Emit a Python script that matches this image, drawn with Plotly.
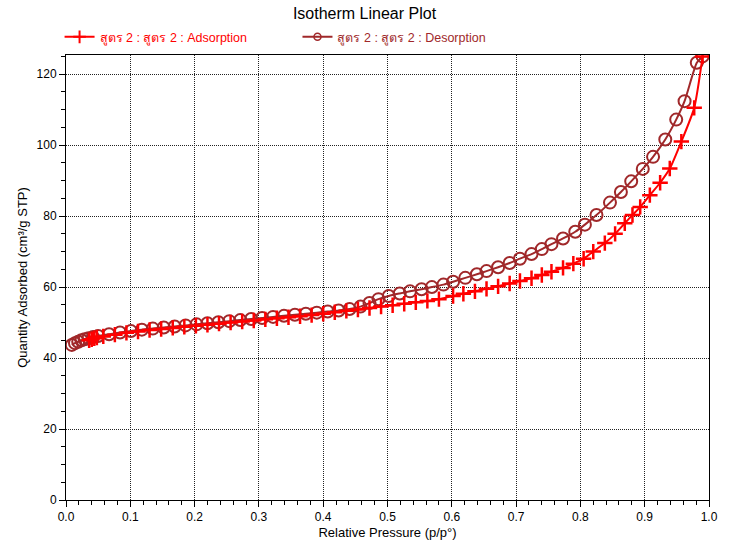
import plotly.graph_objects as go

ads_x = [0.036, 0.040, 0.044, 0.048, 0.058, 0.076, 0.094, 0.112, 0.130, 0.148, 0.166, 0.184,
         0.202, 0.220, 0.238, 0.256, 0.274, 0.292, 0.310, 0.328, 0.346, 0.364, 0.382, 0.400,
         0.418, 0.436, 0.454, 0.472, 0.490, 0.508, 0.526, 0.544, 0.562, 0.580, 0.602, 0.618,
         0.636, 0.654, 0.672, 0.690, 0.706, 0.724, 0.740, 0.755, 0.773, 0.789, 0.805, 0.820,
         0.838, 0.854, 0.869, 0.881, 0.893, 0.908, 0.924, 0.939, 0.957, 0.977, 0.990]
ads_y = [45.0, 45.3, 45.6, 45.8, 46.1, 46.6, 47.1, 47.5, 47.9, 48.2, 48.5, 48.8,
         49.1, 49.4, 49.7, 50.0, 50.3, 50.6, 50.9, 51.2, 51.5, 51.8, 52.1, 52.5,
         52.9, 53.3, 53.7, 54.1, 54.5, 54.9, 55.3, 55.7, 56.1, 56.6, 57.5, 58.1,
         58.8, 59.5, 60.2, 61.0, 61.7, 62.5, 63.4, 64.3, 65.4, 66.6, 68.0, 70.0,
         72.4, 75.0, 78.0, 80.3, 82.6, 85.9, 89.4, 93.4, 101.0, 110.5, 125.0]

des_x = [0.009, 0.014, 0.019, 0.024, 0.029, 0.035, 0.042, 0.050, 0.067, 0.084, 0.101, 0.118,
         0.135, 0.152, 0.169, 0.186, 0.203, 0.220, 0.237, 0.254, 0.271, 0.288, 0.305, 0.322,
         0.339, 0.356, 0.373, 0.390, 0.407, 0.424, 0.441, 0.458, 0.472, 0.486, 0.502, 0.519,
         0.535, 0.553, 0.569, 0.587, 0.602, 0.621, 0.639, 0.654, 0.672, 0.690, 0.706, 0.724,
         0.740, 0.755, 0.773, 0.792, 0.807, 0.825, 0.846, 0.863, 0.879, 0.897, 0.913, 0.932,
         0.949, 0.962, 0.981, 0.990]
des_y = [43.7, 44.2, 44.6, 45.0, 45.3, 45.6, 45.9, 46.2, 46.7, 47.2, 47.6, 48.0,
         48.3, 48.6, 48.9, 49.2, 49.5, 49.8, 50.1, 50.4, 50.7, 51.0, 51.3, 51.6,
         51.9, 52.2, 52.5, 52.8, 53.1, 53.4, 53.8, 54.5, 55.5, 56.6, 57.5, 58.2,
         58.8, 59.4, 60.0, 60.7, 61.5, 62.6, 63.6, 64.5, 65.6, 66.8, 68.0, 69.3,
         70.7, 72.1, 73.7, 75.6, 77.6, 80.3, 83.8, 86.8, 89.8, 93.3, 96.7, 101.6,
         107.2, 112.4, 123.2, 125.0]

x_ticks = [0.0, 0.1, 0.2, 0.3, 0.4, 0.5, 0.6, 0.7, 0.8, 0.9, 1.0]
y_ticks = [0, 20, 40, 60, 80, 100, 120]

ADS_NAME = "สูตร 2 : สูตร 2 : Adsorption"
DES_NAME = "สูตร 2 : สูตร 2 : Desorption"
ADS_COLOR = "#FF0000"
DES_COLOR = "#A0282A"
FONT = "Liberation Sans, Arial, sans-serif"

fig = go.Figure()
fig.add_trace(go.Scatter(
    x=des_x, y=des_y, mode="lines+markers", name=DES_NAME, showlegend=False,
    line=dict(color=DES_COLOR, width=2, shape="spline", smoothing=0.6),
    marker=dict(symbol="circle-open", size=12, color=DES_COLOR, line=dict(width=2, color=DES_COLOR))))
fig.add_trace(go.Scatter(
    x=ads_x, y=ads_y, mode="lines+markers", name=ADS_NAME, showlegend=False,
    line=dict(color=ADS_COLOR, width=2, shape="spline", smoothing=0.6),
    marker=dict(symbol="cross-thin-open", size=11, color=ADS_COLOR, line=dict(width=2.5, color=ADS_COLOR))))

# legend entries (smaller symbols, as in the reference legend)
fig.add_trace(go.Scatter(
    x=[None], y=[None], mode="lines+markers", name=ADS_NAME, legend="legend",
    line=dict(color=ADS_COLOR, width=2),
    marker=dict(symbol="cross-thin-open", size=9, color=ADS_COLOR, line=dict(width=2, color=ADS_COLOR))))
fig.add_trace(go.Scatter(
    x=[None], y=[None], mode="lines+markers", name=DES_NAME, legend="legend2",
    line=dict(color=DES_COLOR, width=2),
    marker=dict(symbol="circle-open", size=7, color=DES_COLOR, line=dict(width=1.5, color=DES_COLOR))))

axis_common = dict(
    showline=True, linecolor="black", linewidth=1, mirror=True,
    ticks="outside", ticklen=6, tickcolor="black", tickwidth=1,
    showgrid=True, gridcolor="#222222", gridwidth=1, griddash="1px,1px",
    zeroline=False, tickfont=dict(family=FONT, size=12, color="black"),
)

fig.update_xaxes(
    range=[0, 1], tickvals=x_ticks, ticktext=[f"{v:.1f}" for v in x_ticks],
    title=dict(text="Relative Pressure (p/p°)", font=dict(family=FONT, size=13, color="black"), standoff=4),
    minor=dict(tickvals=[round(i * 0.02, 2) for i in range(51)], ticks="outside", ticklen=4,
               tickcolor="black", showgrid=False),
    **axis_common)
fig.update_yaxes(
    range=[0, 125.4], tickvals=y_ticks,
    title=dict(text="Quantity Adsorbed (cm³/g STP)", font=dict(family=FONT, size=13, color="black"), standoff=6),
    minor=dict(dtick=5, ticks="outside", ticklen=4, tickcolor="black", showgrid=False),
    **axis_common)

fig.update_layout(
    width=729, height=549,
    margin=dict(l=66, r=20, t=55, b=49),
    paper_bgcolor="white", plot_bgcolor="white",
    title=dict(text="Isotherm Linear Plot", x=0.5, xanchor="center", y=0.975, yanchor="middle",
               font=dict(family=FONT, size=16, color="black")),
    legend=dict(x=-0.01, y=1.04, xanchor="left", yanchor="middle", orientation="h",
                font=dict(family=FONT, size=12.5, color=ADS_COLOR), bgcolor="rgba(0,0,0,0)",
                itemwidth=30),
    legend2=dict(x=0.36, y=1.04, xanchor="left", yanchor="middle", orientation="h",
                 font=dict(family=FONT, size=12.5, color=DES_COLOR), bgcolor="rgba(0,0,0,0)",
                 itemwidth=30),
    showlegend=True,
)

fig.write_html("out.html")
